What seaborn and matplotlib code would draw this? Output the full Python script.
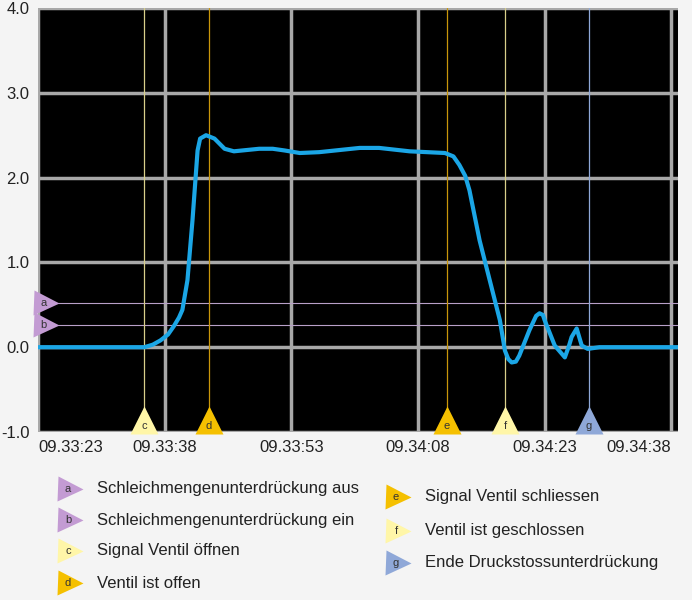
import matplotlib
matplotlib.use("Agg")
import matplotlib.pyplot as plt
import matplotlib.transforms as mtransforms
import seaborn as sns
import pandas as pd

sns.set_style("dark")
plt.rcParams['font.family'] = ['Liberation Sans', 'DejaVu Sans']

# time in seconds after 09.33:23
t_vals = [0, 12.6, 13.6, 14.5, 15.4, 16.1, 16.7, 17.1, 17.7, 18.3, 18.9, 19.2, 19.9, 20.9, 21.5, 22.1, 23.2, 26.2, 27.8, 29.2,
          31.0, 33.3, 38.1, 40.4, 44.0, 48.2, 49.2, 49.9, 50.6, 51.1, 52.3, 53.5, 54.7, 55.3, 55.7, 56.1, 56.6, 57.0, 58.2,
          59.0, 59.4, 59.8, 60.0, 61.2, 62.4, 62.9, 63.2, 63.8, 64.4, 65.1, 66.5, 75.8]
v_vals = [0, 0, 0.03, 0.08, 0.15, 0.25, 0.35, 0.44, 0.79, 1.5, 2.32, 2.46, 2.5, 2.46, 2.40, 2.34, 2.31, 2.34, 2.34, 2.32,
          2.29, 2.30, 2.35, 2.35, 2.31, 2.29, 2.25, 2.15, 2.02, 1.85, 1.26, 0.79, 0.32, -0.04, -0.14, -0.18, -0.17, -0.10, 0.20,
          0.37, 0.40, 0.38, 0.32, 0.02, -0.12, 0.02, 0.12, 0.22, 0.02, -0.02, 0.0, 0.0]
tick_pos = [0, 15, 30, 45, 60, 75]
tick_labels = ["09.33:23", "09.33:38", "09.33:53", "09.34:08", "09.34:23", "09.34:38"]
ev_letters = ["c", "d", "e", "f", "g"]
ev_times = [12.6, 20.2, 48.4, 55.3, 65.2]
ev_marker_colors = ["#fff6a8", "#f5c000", "#f5c000", "#fff6a8", "#8fa8d8"]
ev_line_colors = ["#d8cf8a", "#c8960a", "#c8960a", "#d8cf8a", "#8fa8d8"]
lvl_letters = ["a", "b"]
lvl_values = [0.52, 0.26]
legend_letters = ["a", "b", "c", "d", "e", "f", "g"]
legend_texts = ["Schleichmengenunterdrückung aus", "Schleichmengenunterdrückung ein",
                "Signal Ventil öffnen", "Ventil ist offen", "Signal Ventil schliessen",
                "Ventil ist geschlossen", "Ende Druckstossunterdrückung"]
legend_colors = ["#c39bd3", "#c39bd3", "#fff6a8", "#f5c000", "#f5c000", "#fff6a8", "#8fa8d8"]

fig = plt.figure(figsize=(6.92, 6.0), dpi=100, facecolor="#f4f4f4")
ax = fig.add_axes([38/692, 168/600, 640/692, 424/600])
ax.set_facecolor("black")
ax.set_xlim(0, 75.8)
ax.set_ylim(-1, 4)
ax.set_yticks([-1, 0, 1, 2, 3, 4])
ax.set_yticklabels(["-1.0", "0.0", "1.0", "2.0", "3.0", "4.0"], fontsize=12)
ax.set_xticks(tick_pos)
ax.set_xticklabels(tick_labels, fontsize=12)
ax.grid(True, color="#a8a8a8", lw=2.5)
ax.tick_params(length=0, pad=6, colors="#222222")
xl = ax.get_xticklabels()
xl[0].set_ha("left")
xl[-1].set_ha("right")
xl[-1].set_x(75.8)
for s in ax.spines.values():
    s.set_visible(False)

for lv in lvl_values:
    ax.axhline(lv, color="#b8a0c8", lw=0.8)
for t, c in zip(ev_times, ev_line_colors):
    ax.axvline(t, color=c, lw=0.9)

df = pd.DataFrame({"t": t_vals, "v": v_vals})
sns.lineplot(data=df, x="t", y="v", ax=ax, color="#1ba6e6", lw=3)
ax.set_xlabel("")
ax.set_ylabel("")

for t, L, c in zip(ev_times, ev_letters, ev_marker_colors):
    ax.plot([t], [-0.855], marker="^", ms=20, color=c, mec="none", clip_on=False, zorder=5)
    ax.text(t, -0.93, L, ha="center", va="center", fontsize=8, color="#333", zorder=6)
tr = mtransforms.blended_transform_factory(ax.transAxes, ax.transData)
for lv, L in zip(lvl_values, lvl_letters):
    ax.plot([0.012], [lv], marker=">", ms=18, color="#c39bd3", mec="none", transform=tr, clip_on=False, zorder=5)
    ax.text(0.009, lv, L, ha="center", va="center", fontsize=8, color="#333", transform=tr, zorder=6)

pos = [(70, 489), (70, 520), (70, 551), (70, 583), (398, 497), (398, 531), (398, 563)]
for (x, y), L, txt, c in zip(pos, legend_letters, legend_texts, legend_colors):
    fx, fy = x/692, 1 - y/600
    fig.add_artist(plt.Line2D([fx], [fy], marker=">", ms=18, color=c, mec="none", transform=fig.transFigure))
    fig.text(fx - 0.003, fy, L, ha="center", va="center", fontsize=8, color="#333")
    fig.text((x + 27)/692, fy, txt, ha="left", va="center", fontsize=12, color="#222")

fig.savefig("out.png", dpi=100, facecolor=fig.get_facecolor())
